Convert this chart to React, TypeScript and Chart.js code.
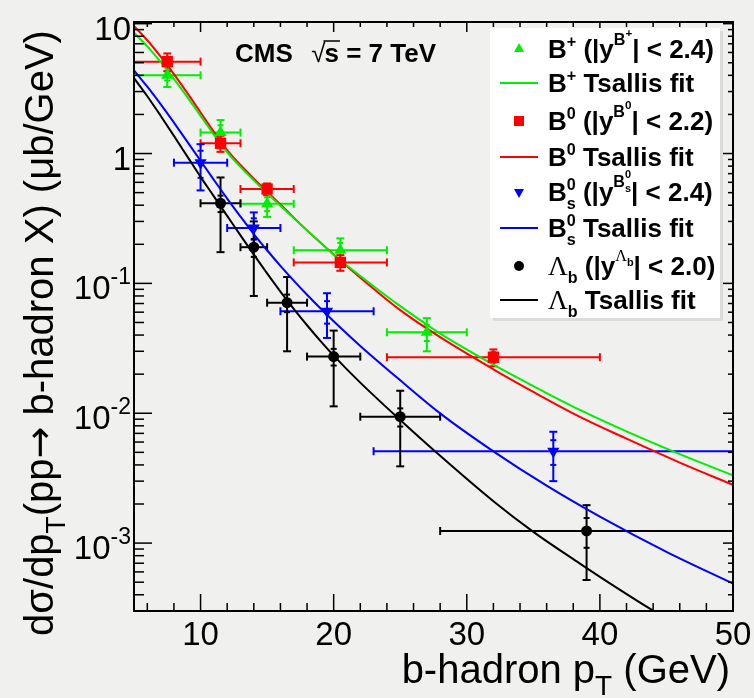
import React, { useEffect, useRef } from 'react';
import { Chart, registerables } from 'chart.js';

Chart.register(...registerables);

const X_MIN = 5;
const X_MAX = 50;
const Y_MIN = 3.2e-4;
const Y_MAX = 10.3;

// B+ measurement
const bpX = [7.5, 11.5, 15, 20.5, 27];
const bpXLo = [5, 10, 13, 17, 24];
const bpXHi = [10, 13, 17, 24, 30];
const bpY = [4.0, 1.45, 0.41, 0.18, 0.042];
const bpErr = [0.75, 0.36, 0.085, 0.042, 0.012];
const bpStat = [0.35, 0.2, 0.05, 0.025, 0.006];

// B0 measurement
const b0X = [7.5, 11.5, 15, 20.5, 32];
const b0XLo = [5, 10, 13, 17, 24];
const b0XHi = [10, 13, 17, 24, 40];
const b0Y = [5.1, 1.2, 0.533, 0.145, 0.027];
const b0Err = [0.8, 0.17, 0.055, 0.02, 0.004];
const b0Stat = [0.35, 0.08, 0.03, 0.01, 0.0025];

// Bs measurement
const bsX = [10, 14, 19.5, 36.5];
const bsXLo = [8, 12, 16, 23];
const bsXHi = [12, 16, 23, 50];
const bsY = [0.85, 0.267, 0.061, 0.0051];
const bsErr = [0.33, 0.085, 0.023, 0.0021];
const bsStat = [0.2, 0.05, 0.012, 0.0011];

// Lambda_b measurement
const lbX = [11.5, 14, 16.5, 20, 25, 39];
const lbXLo = [10, 13, 15, 18, 22, 28];
const lbXHi = [13, 15, 18, 22, 28, 50];
const lbY = [0.414, 0.19, 0.071, 0.0273, 0.0094, 0.00124];
const lbErr = [0.24, 0.11, 0.041, 0.016, 0.0055, 0.00072];
const lbStat = [0.06, 0.03, 0.011, 0.004, 0.0015, 0.00032];

// Tsallis fit curves
const bpFitX = [5, 6, 7, 8, 9, 10, 11, 12, 13, 14, 15, 16, 17, 18, 19, 20, 21, 23, 25, 27, 28, 32, 35, 38.5, 42, 46, 50];
const bpFitY = [8.51, 6.68, 5.07, 3.76, 2.72, 1.95, 1.396, 1.023, 0.789, 0.621, 0.495, 0.396, 0.318, 0.256, 0.2075, 0.166, 0.1374, 0.0951, 0.0668, 0.0481, 0.0411, 0.0237, 0.0162, 0.0106, 0.00724, 0.00484, 0.00332];
const b0FitX = [5, 6, 7, 8, 9, 10, 11, 12, 13, 14, 15, 16, 17, 18, 19, 20, 21, 23, 25, 28, 32, 35, 38.5, 42, 46, 50];
const b0FitY = [9.59, 7.45, 5.58, 4.09, 2.93, 2.07, 1.47, 1.064, 0.817, 0.641, 0.509, 0.405, 0.321, 0.256, 0.206, 0.167, 0.1355, 0.0908, 0.0622, 0.0385, 0.0218, 0.0146, 0.00938, 0.00637, 0.00417, 0.00281];
const bsFitX = [5, 6, 7, 8, 9, 10, 11, 12, 13, 14, 15, 16, 17, 18, 19, 20, 22, 25, 28, 32, 36, 40, 45, 50];
const bsFitY = [4.37, 3.27, 2.4, 1.73, 1.236, 0.879, 0.627, 0.45, 0.327, 0.24, 0.18, 0.1365, 0.105, 0.0817, 0.0643, 0.0511, 0.033, 0.01795, 0.00998, 0.00509, 0.00277, 0.0016, 0.000857, 0.000488];
const lbFitX = [5, 6, 7, 8, 9, 10, 11, 12, 13, 14, 15, 16, 17, 18, 19, 20, 22, 25, 28, 32, 35, 38.5, 40, 43.6, 46];
const lbFitY = [3.81, 2.76, 1.954, 1.368, 0.951, 0.661, 0.468, 0.331, 0.234, 0.1667, 0.1194, 0.0865, 0.0637, 0.0476, 0.0361, 0.0278, 0.0172, 0.00887, 0.0047, 0.0021, 0.00122, 0.000695, 0.00055, 0.00032, 0.000228];

// Axis labels
const xTickValues = [10, 20, 30, 40, 50];
const yTickValues = [10, 1, 0.1, 0.01, 0.001];
const yTickBase = ['10', '1', '10', '10', '10'];
const yTickExp = ['', '', '-1', '-2', '-3'];

const GREEN = '#00ee00';
const RED = '#ff0000';
const BLUE = '#0000ff';
const BLACK = '#000000';

const SANS = '"Liberation Sans", Arial, sans-serif';
const SERIF = '"Liberation Serif", "Times New Roman", serif';
const DEJA = '"DejaVu Sans", sans-serif';

const measSeries = [
  { x: bpX, lo: bpXLo, hi: bpXHi, y: bpY, err: bpErr, stat: bpStat, color: GREEN },
  { x: b0X, lo: b0XLo, hi: b0XHi, y: b0Y, err: b0Err, stat: b0Stat, color: RED },
  { x: bsX, lo: bsXLo, hi: bsXHi, y: bsY, err: bsErr, stat: bsStat, color: BLUE },
  { x: lbX, lo: lbXLo, hi: lbXHi, y: lbY, err: lbErr, stat: lbStat, color: BLACK },
];

type Seg = { t: string; s: number; dy: number; adv?: boolean; fam?: string; bold?: boolean };

function drawRich(ctx: CanvasRenderingContext2D, x: number, y: number, segs: Seg[], base: number, bold: boolean, draw = true) {
  let cx = x;
  for (const g of segs) {
    const sz = base * g.s;
    const b = g.bold !== undefined ? g.bold : bold;
    ctx.font = `${b ? 'bold ' : ''}${sz}px ${g.fam || SANS}`;
    if (draw) ctx.fillText(g.t, cx, y + g.dy * base);
    const w = ctx.measureText(g.t).width;
    if (g.adv !== false) cx += w;
  }
  return cx - x;
}

function line(ctx: CanvasRenderingContext2D, x1: number, y1: number, x2: number, y2: number) {
  ctx.beginPath();
  ctx.moveTo(x1, y1);
  ctx.lineTo(x2, y2);
  ctx.stroke();
}

const bgPlugin = {
  id: 'bgfill',
  beforeDraw(chart: any) {
    const { ctx, width, height } = chart;
    ctx.save();
    ctx.fillStyle = '#f0f0ee';
    ctx.fillRect(0, 0, width, height);
    ctx.restore();
  },
};

const errPlugin = {
  id: 'errbars',
  beforeDatasetsDraw(chart: any) {
    const { ctx, chartArea: ca } = chart;
    const xs = chart.scales.x;
    const ys = chart.scales.y;
    ctx.save();
    ctx.beginPath();
    ctx.rect(ca.left, ca.top, ca.right - ca.left, ca.bottom - ca.top);
    ctx.clip();
    ctx.lineWidth = 2;
    for (const s of measSeries) {
      ctx.strokeStyle = s.color;
      for (let i = 0; i < s.x.length; i++) {
        const px = xs.getPixelForValue(s.x[i]);
        const py = ys.getPixelForValue(s.y[i]);
        const pl = xs.getPixelForValue(s.lo[i]);
        const pr = xs.getPixelForValue(s.hi[i]);
        const pu = ys.getPixelForValue(s.y[i] + s.err[i]);
        const pd = ys.getPixelForValue(s.y[i] - s.err[i]);
        const su = ys.getPixelForValue(s.y[i] + s.stat[i]);
        const sd = ys.getPixelForValue(s.y[i] - s.stat[i]);
        line(ctx, pl, py, pr, py);
        line(ctx, pl, py - 4, pl, py + 4);
        line(ctx, pr, py - 4, pr, py + 4);
        line(ctx, px, pu, px, pd);
        line(ctx, px - 4, pu, px + 4, pu);
        line(ctx, px - 4, pd, px + 4, pd);
        line(ctx, px - 3, su, px + 3, su);
        line(ctx, px - 3, sd, px + 3, sd);
      }
    }
    ctx.restore();
  },
};

function drawMarker(ctx: CanvasRenderingContext2D, kind: string, x: number, y: number, color: string) {
  ctx.fillStyle = color;
  ctx.beginPath();
  if (kind === 'up') {
    ctx.moveTo(x, y - 6);
    ctx.lineTo(x + 5, y + 3);
    ctx.lineTo(x - 5, y + 3);
    ctx.closePath();
  } else if (kind === 'down') {
    ctx.moveTo(x, y + 6);
    ctx.lineTo(x + 5, y - 3);
    ctx.lineTo(x - 5, y - 3);
    ctx.closePath();
  } else if (kind === 'square') {
    ctx.rect(x - 5, y - 5, 10, 10);
  } else {
    ctx.arc(x, y, 5, 0, Math.PI * 2);
  }
  ctx.fill();
}

const decoPlugin = {
  id: 'deco',
  afterDatasetsDraw(chart: any) {
    const { ctx, chartArea: ca } = chart;
    const xs = chart.scales.x;
    const ys = chart.scales.y;
    ctx.save();
    // frame
    ctx.strokeStyle = '#000';
    ctx.lineWidth = 2;
    ctx.strokeRect(ca.left, ca.top, ca.right - ca.left, ca.bottom - ca.top);
    ctx.lineWidth = 1.5;
    for (let v = 6; v <= X_MAX; v += 2) {
      const major = v % 10 === 0;
      const px = xs.getPixelForValue(v);
      line(ctx, px, ca.bottom, px, ca.bottom - (major ? 17 : 8));
      line(ctx, px, ca.top, px, ca.top + (major ? 10 : 5));
    }
    for (let d = -4; d <= 1; d++) {
      for (let k = 1; k <= 9; k++) {
        const v = k * Math.pow(10, d);
        if (v < Y_MIN || v > Y_MAX) continue;
        const py = ys.getPixelForValue(v);
        const major = k === 1;
        line(ctx, ca.left, py, ca.left + (major ? 18 : 10), py);
        line(ctx, ca.right, py, ca.right - (major ? 10 : 5), py);
      }
    }
    // tick labels
    ctx.fillStyle = '#000';
    ctx.font = `33px ${SANS}`;
    ctx.textAlign = 'center';
    ctx.textBaseline = 'alphabetic';
    for (const v of xTickValues) {
      ctx.fillText(String(v), xs.getPixelForValue(v), 645);
    }
    ctx.textAlign = 'left';
    for (let i = 0; i < yTickValues.length; i++) {
      const py = ys.getPixelForValue(yTickValues[i]);
      ctx.font = `23px ${SANS}`;
      const ew = yTickExp[i] ? ctx.measureText(yTickExp[i]).width : 0;
      ctx.font = `33px ${SANS}`;
      const bw = ctx.measureText(yTickBase[i]).width;
      const right = 131;
      ctx.fillText(yTickBase[i], right - ew - bw, py + 16);
      if (yTickExp[i]) {
        ctx.font = `23px ${SANS}`;
        ctx.fillText(yTickExp[i], right - ew, py + 1);
      }
    }
    // axis titles
    const xt: Seg[] = [
      { t: 'b-hadron p', s: 1, dy: 0 },
      { t: 'T', s: 0.7, dy: 0.3 },
      { t: ' (GeV)', s: 1, dy: 0 },
    ];
    const xw = drawRich(ctx, 0, 0, xt, 40, false, false);
    drawRich(ctx, 730 - xw, 683, xt, 40, false);

    const yt: Seg[] = [
      { t: 'dσ/dp', s: 1, dy: 0 },
      { t: 'T', s: 0.7, dy: 0.3 },
      { t: '(pp', s: 1, dy: 0 },
      { t: '→', s: 0.95, dy: -0.02, fam: DEJA },
      { t: ' b-hadron X) (μb/GeV)', s: 1, dy: 0 },
    ];
    const yw = drawRich(ctx, 0, 0, yt, 40, false, false);
    ctx.save();
    ctx.translate(53, 333);
    ctx.rotate(-Math.PI / 2);
    drawRich(ctx, -yw / 2, 0, yt, 40, false);
    ctx.restore();

    // CMS label
    ctx.font = `bold 26px ${SANS}`;
    let cx = 235;
    ctx.fillText('CMS', cx, 62);
    cx += ctx.measureText('CMS  ').width + 4;
    ctx.font = `26px ${SANS}`;
    ctx.fillText('√', cx, 62);
    const rw = ctx.measureText('√').width;
    cx += rw - 1;
    ctx.font = `bold 26px ${SANS}`;
    const sw = ctx.measureText('s').width;
    ctx.fillText('s', cx, 62);
    ctx.lineWidth = 1.5;
    ctx.strokeStyle = '#000';
    line(ctx, cx - 1, 41, cx + sw + 1, 41);
    cx += sw;
    ctx.fillText(' = 7 TeV', cx, 62);

    // legend
    ctx.fillStyle = '#dcdcdc';
    ctx.fillRect(493, 31, 230, 290);
    ctx.fillStyle = '#ffffff';
    ctx.fillRect(490, 28, 230, 290);

    const rows: { kind: string; color: string; yc: number; segs: Seg[] }[] = [
      {
        kind: 'up', color: GREEN, yc: 49, segs: [
          { t: 'B', s: 1, dy: 0 }, { t: '+', s: 0.62, dy: -0.42 },
          { t: ' (|y', s: 1, dy: 0 }, { t: 'B', s: 0.62, dy: -0.5 }, { t: '+', s: 0.45, dy: -0.8 },
          { t: '| < 2.4)', s: 1, dy: 0 },
        ],
      },
      {
        kind: 'line', color: GREEN, yc: 83, segs: [
          { t: 'B', s: 1, dy: 0 }, { t: '+', s: 0.62, dy: -0.42 }, { t: ' Tsallis fit', s: 1, dy: 0 },
        ],
      },
      {
        kind: 'square', color: RED, yc: 121, segs: [
          { t: 'B', s: 1, dy: 0 }, { t: '0', s: 0.62, dy: -0.42 },
          { t: ' (|y', s: 1, dy: 0 }, { t: 'B', s: 0.62, dy: -0.5 }, { t: '0', s: 0.45, dy: -0.8 },
          { t: '| < 2.2)', s: 1, dy: 0 },
        ],
      },
      {
        kind: 'line', color: RED, yc: 157, segs: [
          { t: 'B', s: 1, dy: 0 }, { t: '0', s: 0.62, dy: -0.42 }, { t: ' Tsallis fit', s: 1, dy: 0 },
        ],
      },
      {
        kind: 'down', color: BLUE, yc: 192, segs: [
          { t: 'B', s: 1, dy: 0 }, { t: '0', s: 0.62, dy: -0.42, adv: false }, { t: 's', s: 0.62, dy: 0.3 },
          { t: ' (|y', s: 1, dy: 0 }, { t: 'B', s: 0.62, dy: -0.55 }, { t: '0', s: 0.42, dy: -0.9, adv: false },
          { t: 's', s: 0.42, dy: -0.35 },
          { t: '| < 2.4)', s: 1, dy: 0 },
        ],
      },
      {
        kind: 'line', color: BLUE, yc: 228, segs: [
          { t: 'B', s: 1, dy: 0 }, { t: '0', s: 0.62, dy: -0.42, adv: false }, { t: 's', s: 0.62, dy: 0.3 },
          { t: ' Tsallis fit', s: 1, dy: 0 },
        ],
      },
      {
        kind: 'circle', color: BLACK, yc: 266, segs: [
          { t: 'Λ', s: 1.05, dy: 0, fam: SERIF, bold: false }, { t: 'b', s: 0.62, dy: 0.3 },
          { t: ' (|y', s: 1, dy: 0 }, { t: 'Λ', s: 0.62, dy: -0.55, fam: SERIF, bold: false },
          { t: 'b', s: 0.42, dy: -0.35 },
          { t: '| < 2.0)', s: 1, dy: 0 },
        ],
      },
      {
        kind: 'line', color: BLACK, yc: 300, segs: [
          { t: 'Λ', s: 1.05, dy: 0, fam: SERIF, bold: false }, { t: 'b', s: 0.62, dy: 0.3 },
          { t: ' Tsallis fit', s: 1, dy: 0 },
        ],
      },
    ];
    for (const r of rows) {
      if (r.kind === 'line') {
        ctx.strokeStyle = r.color;
        ctx.lineWidth = 2;
        line(ctx, 500, r.yc, 538, r.yc);
      } else {
        drawMarker(ctx, r.kind, 519, r.yc, r.color);
      }
      ctx.fillStyle = '#000';
      drawRich(ctx, 548, r.yc + 9, r.segs, 26, true);
    }
    ctx.restore();
  },
};

function pts(xv: number[], yv: number[]) {
  return xv.map((x, i) => ({ x, y: yv[i] }));
}

export default function App() {
  const ref = useRef<HTMLCanvasElement>(null);
  useEffect(() => {
    document.body.style.margin = '0';
    const canvas = ref.current;
    if (!canvas) return;
    const fit = (xv: number[], yv: number[], color: string) => ({
      type: 'line' as const,
      data: pts(xv, yv),
      borderColor: color,
      borderWidth: 2,
      pointRadius: 0,
      fill: false,
      showLine: true,
      cubicInterpolationMode: 'monotone' as const,
      order: 2,
    });
    const meas = (xv: number[], yv: number[], color: string, style: any, radius: number, rot = 0) => ({
      type: 'scatter' as const,
      data: pts(xv, yv),
      backgroundColor: color,
      borderColor: color,
      borderWidth: 0,
      pointStyle: style,
      pointRadius: radius,
      pointRotation: rot,
      showLine: false,
      order: 0,
    });
    const chart = new Chart(canvas, {
      type: 'scatter',
      data: {
        datasets: [
          meas(bpX, bpY, GREEN, 'triangle', 7),
          meas(b0X, b0Y, RED, 'rect', 8),
          meas(bsX, bsY, BLUE, 'triangle', 7, 180),
          meas(lbX, lbY, BLACK, 'circle', 5.5),
          fit(bpFitX, bpFitY, GREEN),
          fit(b0FitX, b0FitY, RED),
          fit(bsFitX, bsFitY, BLUE),
          fit(lbFitX, lbFitY, BLACK),
        ] as any,
      },
      options: {
        responsive: false,
        animation: false,
        devicePixelRatio: 1,
        events: [],
        layout: { padding: { left: 134, right: 21, top: 22, bottom: 87 } },
        scales: {
          x: { type: 'linear', min: X_MIN, max: X_MAX, display: false },
          y: { type: 'logarithmic', min: Y_MIN, max: Y_MAX, display: false },
        },
        plugins: {
          legend: { display: false },
          tooltip: { enabled: false },
        },
      },
      plugins: [bgPlugin, errPlugin, decoPlugin],
    });
    return () => chart.destroy();
  }, []);
  return <canvas ref={ref} width={754} height={698} style={{ display: 'block' }} />;
}
